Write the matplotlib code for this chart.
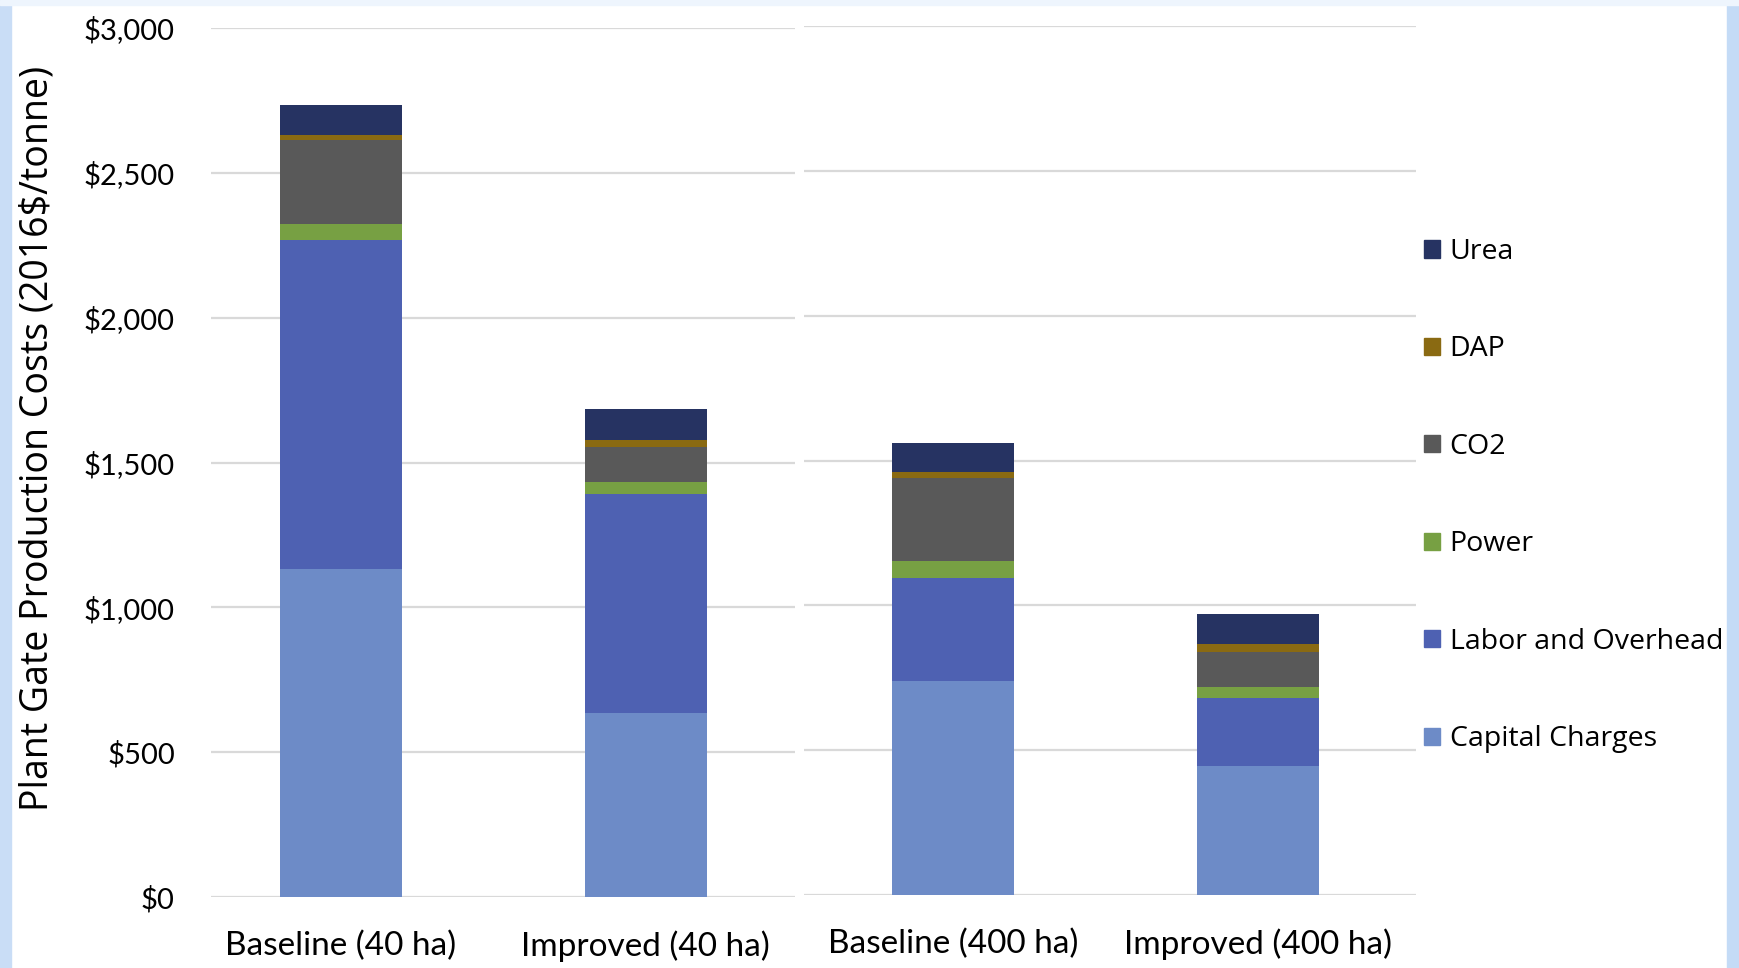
import matplotlib
matplotlib.use("Agg")
import matplotlib.pyplot as plt
from matplotlib.patches import Patch, Rectangle

# cost breakdown per scenario, 2016$ per tonne
categories = ["Baseline (40 ha)", "Improved (40 ha)", "Baseline (400 ha)", "Improved (400 ha)"]
capital = [1134, 634, 738, 445]
labor = [1135, 756, 355, 234]
power = [55, 41, 59, 38]
co2 = [290, 121, 289, 121]
dap = [17, 27, 21, 27]
urea = [103, 104, 97, 104]

series = [
    ("Capital Charges", capital, "#6d8bc7"),
    ("Labor and Overhead", labor, "#4e61b2"),
    ("Power", power, "#77a043"),
    ("CO2", co2, "#595959"),
    ("DAP", dap, "#8a6a12"),
    ("Urea", urea, "#263362"),
]
yticks = [0, 500, 1000, 1500, 2000, 2500, 3000]

W, H = 1739, 968
fig = plt.figure(figsize=(W / 100, H / 100), dpi=100)

# light blue frame of the slide
fig.patches.append(Rectangle((0, 0), 11 / W, 1, transform=fig.transFigure, color="#c9ddf6", zorder=0))
fig.patches.append(Rectangle((1727 / W, 0), 1, 1, transform=fig.transFigure, color="#c4dbf6", zorder=0))
fig.patches.append(Rectangle((0, 1 - 5 / H), 1, 5 / H, transform=fig.transFigure, color="#eef5fd", zorder=0))

ax1 = fig.add_axes([211 / W, (H - 897) / H, (795 - 211) / W, 869 / H])
ax2 = fig.add_axes([804 / W, (H - 895) / H, (1416 - 804) / W, 869 / H])

panels = [(ax1, slice(0, 2), (-0.425, 1.49)), (ax2, slice(2, 4), (-0.489, 1.52))]
for ax, sl, xl in panels:
    cats = categories[sl]
    x = list(range(len(cats)))
    bottom = [0] * len(cats)
    for name, vals, col in series:
        v = vals[sl]
        ax.bar(x, v, width=0.4, bottom=bottom, color=col, zorder=3)
        bottom = [b + d for b, d in zip(bottom, v)]
    ax.set_xlim(*xl)
    ax.set_ylim(0, 3000)
    ax.set_yticks(yticks)
    ax.yaxis.grid(True, color="#d9d9d9", linewidth=1.6, zorder=0)
    ax.set_xticks(x)
    ax.set_xticklabels(cats, fontsize=24, family="Lato")
    ax.tick_params(axis="x", length=0, pad=24)
    ax.tick_params(axis="y", length=0)
    for s in ax.spines.values():
        s.set_visible(False)
    ax.set_facecolor("none")

ax1.set_yticklabels(["${:,}".format(t) for t in yticks], fontsize=21, family="Lato")
ax1.tick_params(axis="y", pad=26)
ax2.set_yticklabels([])

fig.text(38 / W, 1 - 438 / H, "Plant Gate Production Costs (2016$/tonne)",
         rotation=90, ha="center", va="center", fontsize=27, family="Open Sans")

handles = [Patch(color=col, label=name) for name, vals, col in reversed(series)]
fig.legend(handles=handles, loc="upper left", bbox_to_anchor=(1424 / W, 1 - 238 / H),
           frameon=False, prop={"family": "Open Sans", "size": 20.5},
           handlelength=0.55, handleheight=0.55, handletextpad=0.35,
           labelspacing=2.44, borderpad=0, borderaxespad=0)

fig.savefig("out.png", dpi=100)
